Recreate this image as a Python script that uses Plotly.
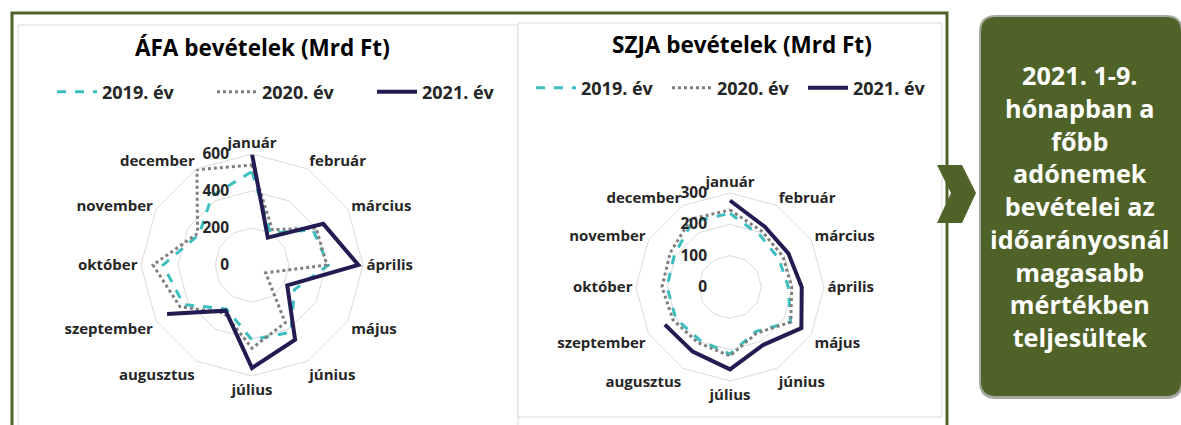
import plotly.graph_objects as go

W, H = 1181, 425

months = ["január", "február", "március", "április", "május", "június",
          "július", "augusztus", "szeptember", "október", "november", "december"]

# ÁFA (Mrd Ft)
afa_2019 = [505, 200, 380, 413, 265, 420, 405, 275, 427, 481, 330, 432]
afa_2020 = [540, 220, 400, 405, 85, 360, 450, 300, 450, 535, 340, 595]
afa_2021 = [600, 171, 445, 575, 220, 466, 557, 285, 530]

# SZJA (Mrd Ft)
szja_2019 = [235, 191, 180, 186, 223, 164, 214, 195, 200, 201, 205, 240]
szja_2020 = [246, 205, 195, 197, 224, 170, 220, 205, 210, 217, 220, 250]
szja_2021 = [276, 222, 215, 229, 263, 213, 263, 238, 240]

series_names = ["2019. év", "2020. év", "2021. év"]
box_lines = ["2021. 1-9.", "hónapban a", "főbb", "adónemek", "bevételei az",
             "időarányosnál", "magasabb", "mértékben", "teljesültek"]

TEAL = "#3CBFC0"
GREY = "#7F7F7F"
NAVY = "#231C52"
GREEN = "#4F6228"
FONT = "Open Sans"
NB = "\u00a0" * 5

def px_x(x):
    return x / W

def px_y(y):
    return 1 - y / H

fig = go.Figure()

styles = [dict(color=TEAL, width=3, dash="dash"),
          dict(color=GREY, width=3, dash="dot"),
          dict(color=NAVY, width=4, dash="solid")]

def add_series(vals_list, subplot, legend_name):
    for name, vals, st in zip(series_names, vals_list, styles):
        theta = months[:len(vals)]
        r = list(vals)
        if len(vals) == len(months):
            theta = theta + [theta[0]]
            r = r + [r[0]]
        fig.add_trace(go.Scatterpolar(
            r=r, theta=theta, mode="lines", name=name, line=st,
            subplot=subplot, legend=legend_name, hoverinfo="skip"))

add_series([afa_2019, afa_2020, afa_2021], "polar", "legend")
add_series([szja_2019, szja_2020, szja_2021], "polar2", "legend2")

def polar_cfg(cx, cy, R, rmax, dtick):
    return dict(
        domain=dict(x=[px_x(cx - R), px_x(cx + R)], y=[px_y(cy + R), px_y(cy - R)]),
        bgcolor="rgba(0,0,0,0)",
        gridshape="linear",
        radialaxis=dict(range=[0, rmax], dtick=dtick, angle=90, tickangle=90,
                        showline=False, ticks="", gridcolor="#D9D9D9", gridwidth=1,
                        side="counterclockwise", ticksuffix=NB,
                        tickfont=dict(family=FONT, size=15.5, color="#262626", weight="bold")),
        angularaxis=dict(direction="clockwise", rotation=90, categoryarray=months,
                         categoryorder="array", showgrid=False, showline=True,
                         linecolor="#D9D9D9", linewidth=1, ticks="",
                         tickfont=dict(family=FONT, size=15, color="#262626", weight="bold")),
    )

shapes = []
# chart area boxes
shapes.append(dict(type="rect", xref="paper", yref="paper", layer="below",
                   x0=px_x(18), x1=px_x(518), y0=px_y(440), y1=px_y(25),
                   line=dict(color="#D9D9D9", width=1), fillcolor="white"))
shapes.append(dict(type="rect", xref="paper", yref="paper", layer="below",
                   x0=px_x(518), x1=px_x(942), y0=px_y(417), y1=px_y(23),
                   line=dict(color="#D9D9D9", width=1), fillcolor="white"))
# outer green frame
shapes.append(dict(type="rect", xref="paper", yref="paper", layer="below",
                   x0=px_x(12), x1=px_x(947), y0=px_y(440), y1=px_y(13),
                   line=dict(color=GREEN, width=3), fillcolor="rgba(0,0,0,0)"))
# chevron arrow
pts = [(937, 165), (962, 165), (976, 193), (962, 223), (937, 223), (951, 193)]
path = "M " + " L ".join(f"{px_x(x)},{px_y(y)}" for x, y in pts) + " Z"
shapes.append(dict(type="path", xref="paper", yref="paper", path=path,
                   fillcolor=GREEN, line=dict(width=0)))
# green rounded box (with soft shadow)
def rounded(x0, y0, x1, y1, rr):
    def P(x, y):
        return f"{px_x(x)},{px_y(y)}"
    return (f"M {P(x0 + rr, y0)} L {P(x1 - rr, y0)} Q {P(x1, y0)} {P(x1, y0 + rr)} "
            f"L {P(x1, y1 - rr)} Q {P(x1, y1)} {P(x1 - rr, y1)} L {P(x0 + rr, y1)} "
            f"Q {P(x0, y1)} {P(x0, y1 - rr)} L {P(x0, y0 + rr)} Q {P(x0, y0)} {P(x0 + rr, y0)} Z")
shapes.append(dict(type="path", xref="paper", yref="paper",
                   path=rounded(979, 15, 1183, 399, 17),
                   fillcolor="#A3A8A0", line=dict(width=0)))
shapes.append(dict(type="path", xref="paper", yref="paper",
                   path=rounded(981, 17, 1181, 396, 15),
                   fillcolor=GREEN, line=dict(width=0)))

annotations = [
    dict(text="<b>ÁFA bevételek (Mrd Ft)</b>", x=px_x(262), y=px_y(47), xref="paper",
         yref="paper", showarrow=False, xanchor="center", yanchor="middle",
         font=dict(family=FONT, size=22.5, color="#000000")),
    dict(text="<b>SZJA bevételek (Mrd Ft)</b>", x=px_x(742), y=px_y(45), xref="paper",
         yref="paper", showarrow=False, xanchor="center", yanchor="middle",
         font=dict(family=FONT, size=22.5, color="#000000")),
    dict(text="<br>".join(f"<b>{t}</b>" for t in box_lines), x=px_x(1080), y=px_y(206),
         xref="paper", yref="paper", showarrow=False, xanchor="center", yanchor="middle",
         align="center", font=dict(family=FONT, size=25.2, color="white")),
]

legend_font = dict(family=FONT, size=18, color="#262626", weight="bold")

fig.update_layout(
    width=W, height=H,
    margin=dict(l=0, r=0, t=0, b=0),
    paper_bgcolor="white",
    plot_bgcolor="white",
    polar=polar_cfg(252, 265, 111, 600, 200),
    polar2=polar_cfg(730, 287, 94, 300, 100),
    legend=dict(orientation="h", x=px_x(52), y=px_y(92), xanchor="left", yanchor="middle",
                font=legend_font, entrywidth=105, itemwidth=40,
                bgcolor="rgba(0,0,0,0)", itemclick=False),
    legend2=dict(orientation="h", x=px_x(531), y=px_y(88), xanchor="left", yanchor="middle",
                 font=legend_font, entrywidth=81, itemwidth=40,
                 bgcolor="rgba(0,0,0,0)", itemclick=False),
    shapes=shapes,
    annotations=annotations,
)

fig.write_html("out.html", post_script="document.body.style.margin='0px';",
               config={"displayModeBar": False})
